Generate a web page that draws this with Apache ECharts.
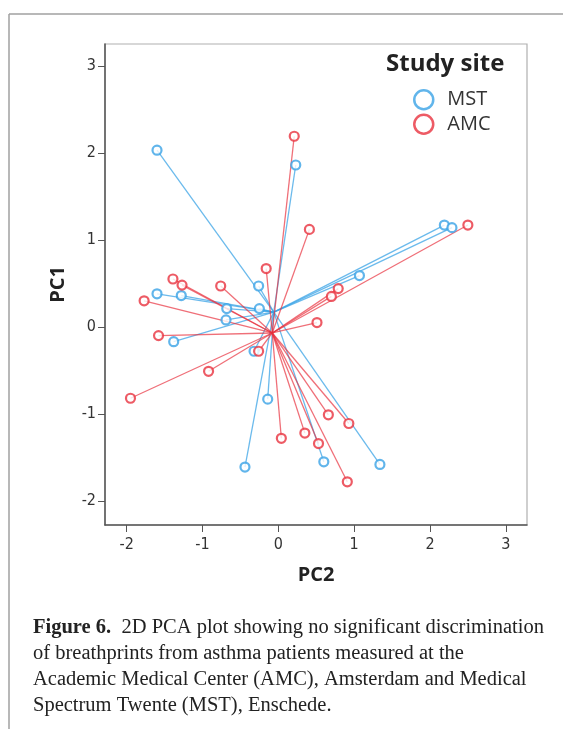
<!DOCTYPE html>
<html>
<head>
<meta charset="utf-8">
<script src="https://cdn.jsdelivr.net/npm/echarts@6/dist/echarts.min.js"></script>
<style>
  html, body { margin: 0; padding: 0; background: #fff; }
  #chart { width: 563px; height: 729px; }
</style>
</head>
<body>
<div id="chart"></div>
<script>
// PCA scores: [PC2, PC1]
var mstPoints = [
    [-1.60, 2.03], [0.23, 1.86], [2.19, 1.17], [2.29, 1.14], [1.07, 0.59],
    [-0.26, 0.47], [-1.60, 0.38], [-1.28, 0.36], [-0.68, 0.21], [-0.25, 0.21],
    [-0.69, 0.08], [-1.38, -0.17], [-0.32, -0.28], [-0.14, -0.83], [-0.44, -1.61],
    [0.60, -1.55], [1.34, -1.58]
];
var amcPoints = [
    [0.21, 2.19], [0.41, 1.12], [2.50, 1.17], [-0.16, 0.67], [-1.39, 0.55],
    [-1.27, 0.48], [-0.76, 0.47], [0.79, 0.44], [-1.77, 0.30], [0.70, 0.35],
    [0.51, 0.05], [-1.58, -0.10], [-0.26, -0.28], [-0.92, -0.51], [-1.95, -0.82],
    [0.66, -1.01], [0.93, -1.11], [0.04, -1.28], [0.35, -1.22], [0.53, -1.34],
    [0.91, -1.78]
];
// group centroids (where the spokes meet)
var mstCentroid = [-0.06, 0.17];
var amcCentroid = [-0.08, -0.07];
var tickValues = [-2, -1, 0, 1, 2, 3];
var siteNames = ['MST', 'AMC'];
var captionLines = [
    'of breathprints from asthma patients measured at the',
    'Academic Medical Center (AMC), Amsterdam and Medical',
    'Spectrum Twente (MST), Enschede.'
];

var BLUE = '#3aa3e6';
var RED = '#e8323f';
var SERIF = '"Liberation Serif", serif';
var SANS = '"Open Sans", sans-serif';
var NARROW = '"Liberation Sans Narrow", "DejaVu Sans Condensed", sans-serif';

function spokes(centroid, points) {
    return points.map(function (p) {
        return { coords: [centroid, p] };
    });
}

var dom = document.getElementById('chart');
var myChart = echarts.init(dom, null, { renderer: 'canvas' });

var graphics = [
    // outer figure frame (top + left edge)
    { type: 'line', shape: { x1: 9, y1: 14, x2: 563, y2: 14 }, style: { stroke: '#a0a0a0', lineWidth: 1.5 } },
    { type: 'line', shape: { x1: 9, y1: 14, x2: 9, y2: 729 }, style: { stroke: '#a0a0a0', lineWidth: 1.5 } },
    // legend heading
    { type: 'text', left: 386, top: 52, style: { text: 'Study site', font: 'bold 24px ' + SANS, fill: '#222' } },
    // caption
    {
        type: 'text', left: 33, top: 617,
        style: {
            text: '{b|Figure 6.}  2D PCA plot showing no significant discrimination',
            font: '20.5px ' + SERIF, fill: '#222',
            rich: { b: { font: 'bold 20.5px ' + SERIF, fill: '#222' } }
        }
    }
];
captionLines.forEach(function (line, i) {
    graphics.push({
        type: 'text', left: 33, top: 643 + i * 26,
        style: { text: line, font: '20.5px ' + SERIF, fill: '#222' }
    });
});

var option = {
    animation: false,
    grid: {
        left: 105, top: 44, right: 36, bottom: 204,
        show: true, borderColor: '#b0b0b0', borderWidth: 1.2
    },
    legend: {
        data: siteNames,
        orient: 'vertical',
        left: 408, top: 84,
        itemWidth: 19, itemHeight: 19, itemGap: 3,
        textStyle: { fontSize: 20, color: '#333', fontFamily: SANS, padding: [0, 0, 0, 9] },
        itemStyle: { borderWidth: 2.5 }
    },
    xAxis: {
        type: 'value',
        min: -2.286, max: 3.28,
        name: 'PC2', nameLocation: 'middle', nameGap: 40,
        nameTextStyle: { fontSize: 20, fontWeight: 'bold', color: '#222', fontFamily: SANS },
        axisLine: { onZero: false, lineStyle: { color: '#555', width: 1.5 } },
        axisTick: { show: true, inside: false, length: 7, lineStyle: { color: '#555' }, customValues: tickValues },
        axisLabel: { customValues: tickValues, margin: 12, fontSize: 16, color: '#333', fontFamily: NARROW },
        splitLine: { show: false }
    },
    yAxis: {
        type: 'value',
        min: -2.276, max: 3.25,
        name: 'PC1', nameLocation: 'middle', nameGap: 37,
        nameTextStyle: { fontSize: 20, fontWeight: 'bold', color: '#222', fontFamily: SANS },
        axisLine: { onZero: false, lineStyle: { color: '#555', width: 1.5 } },
        axisTick: { show: true, inside: false, length: 7, lineStyle: { color: '#555' }, customValues: tickValues },
        axisLabel: { customValues: tickValues, margin: 9, fontSize: 16, color: '#333', fontFamily: NARROW },
        splitLine: { show: false }
    },
    series: [
        {
            name: 'MST spokes', type: 'lines', coordinateSystem: 'cartesian2d',
            data: spokes(mstCentroid, mstPoints),
            lineStyle: { color: BLUE, width: 1.3, opacity: 0.75 },
            silent: true, z: 2
        },
        {
            name: 'AMC spokes', type: 'lines', coordinateSystem: 'cartesian2d',
            data: spokes(amcCentroid, amcPoints),
            lineStyle: { color: RED, width: 1.3, opacity: 0.7 },
            silent: true, z: 3
        },
        {
            name: 'MST', type: 'scatter',
            data: mstPoints,
            symbol: 'circle', symbolSize: 9,
            itemStyle: { color: '#fff', borderColor: BLUE, borderWidth: 2.2 },
            z: 4
        },
        {
            name: 'AMC', type: 'scatter',
            data: amcPoints,
            symbol: 'circle', symbolSize: 9,
            itemStyle: { color: '#fff', borderColor: RED, borderWidth: 2.2 },
            z: 5
        }
    ],
    graphic: graphics
};

myChart.setOption(option);
</script>
</body>
</html>
